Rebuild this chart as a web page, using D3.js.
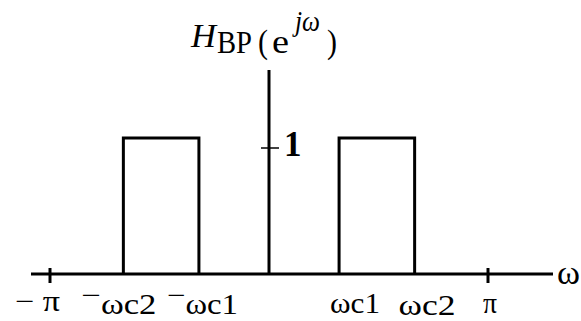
<!DOCTYPE html>
<html>
<head>
<meta charset="utf-8">
<script src="https://cdn.jsdelivr.net/npm/d3@7"></script>
<style>
  body { margin: 0; background: #fff; }
  text { font-family: "Liberation Serif", "Times New Roman", serif; fill: #000; }
</style>
</head>
<body>
<svg id="chart" width="581" height="321"></svg>
<script>
// frequencies in units of pi
var wc1 = 0.32, wc2 = 0.665;
var passbands = [[-wc2, -wc1], [wc1, wc2]];
var gain = 1;
var tickVals = [-1, -wc2, -wc1, wc1, wc2, 1];
var tickSigns = ["\u2212 ", "\u2212", "\u2212", "", "", ""];
var tickNames = ["\u03c0", "\u03c9c2", "\u03c9c1", "\u03c9c1", "\u03c9c2", "\u03c0"];

// label layout (px): left offset from tick, width, baseline
var labelDx = [-35, -42, -32, -9, -16, -5];
var labelW = [45, 75, 71, 50, 57, 14];
var labelY = [311, 314, 314, 313, 315, 313];

var svg = d3.select("#chart");

var x = d3.scaleLinear().domain([-1, 1]).range([50, 488]);
var y = d3.scaleLinear().domain([0, 1]).range([274, 138]);

var stroke = 3;

// horizontal axis
svg.append("line")
    .attr("x1", 31).attr("x2", 553)
    .attr("y1", y(0)).attr("y2", y(0))
    .attr("stroke", "#000").attr("stroke-width", stroke);

// vertical axis
svg.append("line")
    .attr("x1", x(0)).attr("x2", x(0))
    .attr("y1", 70).attr("y2", y(0))
    .attr("stroke", "#000").attr("stroke-width", stroke);

// ticks at +-pi
svg.selectAll(".pitick")
    .data([-1, 1])
  .enter().append("line")
    .attr("x1", function(d) { return x(d); })
    .attr("x2", function(d) { return x(d); })
    .attr("y1", y(0) - 6).attr("y2", y(0) + 9)
    .attr("stroke", "#000").attr("stroke-width", stroke);

// tick at 1 on the vertical axis
svg.append("line")
    .attr("x1", x(0) - 8).attr("x2", x(0) + 10)
    .attr("y1", y(gain) + 10).attr("y2", y(gain) + 10)
    .attr("stroke", "#000").attr("stroke-width", 1.5);

svg.append("text")
    .attr("x", x(0) + 15).attr("y", y(gain) + 18)
    .attr("font-size", 35)
    .attr("font-weight", "bold")
    .text("1");

// the pass bands
var line = d3.line()
    .x(function(d) { return x(d[0]); })
    .y(function(d) { return y(d[1]); });

svg.selectAll(".band")
    .data(passbands)
  .enter().append("path")
    .attr("class", "band")
    .attr("fill", "none")
    .attr("stroke", "#000")
    .attr("stroke-width", stroke)
    .attr("d", function(b) {
      return line([[b[0], 0], [b[0], gain], [b[1], gain], [b[1], 0]]);
    });

// tick labels
var labs = svg.selectAll(".lab")
    .data(tickVals)
  .enter().append("text")
    .attr("class", "lab")
    .attr("x", function(d, i) { return x(d) + labelDx[i]; })
    .attr("y", function(d, i) { return labelY[i]; })
    .attr("font-size", 29)
    .attr("textLength", function(d, i) { return labelW[i]; })
    .attr("lengthAdjust", "spacingAndGlyphs");

labs.each(function(d, i) {
  var t = d3.select(this);
  if (tickSigns[i] === "\u2212") {
    // raised minus as in the original
    t.append("tspan").attr("dy", -9).text("\u2212");
    t.append("tspan").attr("dy", 9).text(tickNames[i]);
  } else {
    t.text(tickSigns[i] + tickNames[i]);
  }
});

// axis name
svg.append("text")
    .attr("x", 557).attr("y", 284)
    .attr("font-size", 34)
    .attr("textLength", 23)
    .attr("lengthAdjust", "spacingAndGlyphs")
    .text("\u03c9");

// title H_BP(e^{jw}), pieces placed one by one
var titleParts = [
  {t: "H", x: 191, y: 47, w: 25, size: 33, it: true},
  {t: "BP", x: 217, y: 53, w: 35, size: 31, it: false},
  {t: "(", x: 258, y: 53, w: 10, size: 33, it: false},
  {t: "e", x: 272, y: 53, w: 17, size: 33, it: false},
  {t: "j\u03c9", x: 295, y: 31, w: 25, size: 30, it: true},
  {t: ")", x: 327, y: 53, w: 10, size: 33, it: false}
];
svg.selectAll(".title")
    .data(titleParts)
  .enter().append("text")
    .attr("class", "title")
    .attr("x", function(d) { return d.x; })
    .attr("y", function(d) { return d.y; })
    .attr("font-size", function(d) { return d.size; })
    .attr("font-style", function(d) { return d.it ? "italic" : "normal"; })
    .attr("textLength", function(d) { return d.w; })
    .attr("lengthAdjust", "spacingAndGlyphs")
    .text(function(d) { return d.t; });
</script>
</body>
</html>
